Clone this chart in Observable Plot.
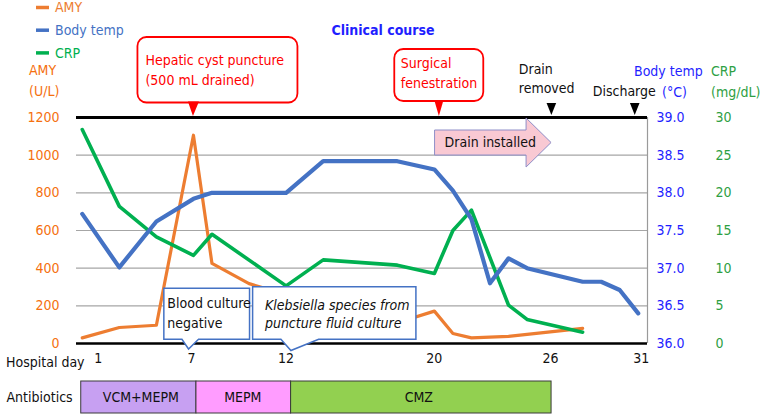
<!DOCTYPE html>
<html><head><meta charset="utf-8">
<script src="https://cdn.jsdelivr.net/npm/d3@7"></script>
<script src="https://cdn.jsdelivr.net/npm/@observablehq/plot@0.6"></script>
<style>
body{margin:0;background:#fff;}
#chart{position:relative;width:767px;height:415px;}
#chart svg{display:block;overflow:visible;}
</style></head><body><div id="chart"></div>
<script>
// ---- data ----
const amyDays   = [1, 3, 5, 7, 8, 10, 12, 14, 16, 18, 20, 21, 22, 24, 28];
const amyValues = [30, 85, 97, 1106, 425, 318, 260, 200, 160, 110, 172, 53, 30, 38, 80];
const tempDays   = [1, 3, 5, 7, 8, 12, 14, 18, 20, 21, 22, 23, 24, 25, 28, 29, 30, 31];
const tempValues = [37.72, 37.01, 37.62, 37.92, 38.0, 38.0, 38.42, 38.42, 38.31, 38.03, 37.65, 36.80, 37.13, 37.0, 36.82, 36.82, 36.71, 36.40];
const crpDays   = [1, 3, 5, 7, 8, 12, 14, 18, 20, 21, 22, 24, 25, 28];
const crpValues = [28.4, 18.2, 14.15, 11.7, 14.5, 7.65, 11.1, 10.4, 9.3, 15.0, 17.7, 5.1, 3.2, 1.5];
const dayTicks  = [1, 7, 12, 20, 26, 31];
const amyTicks  = [0, 200, 400, 600, 800, 1000, 1200];
const tempTicks = [36.0, 36.5, 37.0, 37.5, 38.0, 38.5, 39.0];
const crpTicks  = [0, 5, 10, 15, 20, 25, 30];
const abxDrugs  = ["VCM+MEPM", "MEPM", "CMZ"];
const abxStart  = [1, 7, 12];
const abxEnd    = [7, 12, 26];
const seriesNames = ["AMY", "Body temp", "CRP"];
const eventPuncture = {day: 7, lines: ["Hepatic cyst puncture", "(500 mL drained)"]};
const eventSurgery  = {day: 20, lines: ["Surgical", "fenestration"]};
const eventDrainOut = {day: 26, lines: ["Drain", "removed"]};
const eventDischarge = {day: 31, lines: ["Discharge"]};
const drainInstalled = {start: 20, end: 26, label: "Drain installed"};
const noteBlood = {day: 7, lines: ["Blood culture", "negative"]};
const noteKleb  = {day: 12, lines: ["Klebsiella species from", "puncture fluid culture"]};

// ---- styles / layout ----
const FONT = '"DejaVu Sans Condensed","DejaVu Sans",sans-serif';
const C_AMY = "#ed7d31", C_TEMP = "#4472c4", C_CRP = "#00b050";
const T_AMY = "#f5700f", T_TEMP = "#1f1fff", T_CRP = "#2ea043";
const seriesColor = {"AMY": C_AMY, "Body temp": C_TEMP, "CRP": C_CRP};
const abxColor = {"VCM+MEPM": "#c7a0f2", "MEPM": "#ff9cff", "CMZ": "#92d050"};
const dayTickNudge = {1: 16, 7: -2, 12: 0, 20: 0, 26: 5, 31: 3}; // label placement in px
const abxNudge = [-1, 3, 5, 6]; // bar edge placement in px (start of each, then last end)

const tempToAmy = t => (t - 36) * 400;
const crpToAmy = c => c * 40;

const amy = amyDays.map((d, i) => ({day: d, v: amyValues[i]}));
const temp = tempDays.map((d, i) => ({day: d, v: tempToAmy(tempValues[i])}));
const crp = crpDays.map((d, i) => ({day: d, v: crpToAmy(crpValues[i])}));
const abx = abxDrugs.map((k, i) => ({drug: k, start: abxStart[i], end: abxEnd[i], nl: abxNudge[i], nr: abxNudge[i + 1]}));

const xDomain = [0.69, 31.5];

function decor(index, scales, values, dims) {
  const x = scales.x;
  const top = dims.marginTop, bottom = dims.height - dims.marginBottom;
  const g = d3.create("svg:g").attr("font-family", FONT).attr("font-size", 14);
  const txt = (px, py, s, fill, o = {}) => g.append("text")
    .attr("x", px).attr("y", py).attr("dy", "0.35em")
    .attr("fill", fill).attr("text-anchor", o.anchor || "start")
    .attr("font-weight", o.weight || null).attr("font-style", o.style || null).text(s);

  // legend
  seriesNames.forEach((n, i) => {
    const yy = 7.5 + i * 22.7;
    g.append("line").attr("x1", 36).attr("x2", 49).attr("y1", yy).attr("y2", yy)
      .attr("stroke", seriesColor[n]).attr("stroke-width", 3.5);
    txt(55, yy, n, seriesColor[n]);
  });
  // title
  txt(383, 30, "Clinical course", T_TEMP, {anchor: "middle", weight: "bold"});
  // axis titles
  txt(29, 70, "AMY", T_AMY); txt(29, 91, "(U/L)", T_AMY);
  txt(634, 71, "Body temp", T_TEMP); txt(662, 92, "(°C)", T_TEMP);
  txt(711, 71, "CRP", T_CRP); txt(711, 92, "(mg/dL)", T_CRP);
  txt(6, bottom + 19, "Hospital day", "#111");

  // Hepatic puncture callout
  {
    const px = x(eventPuncture.day);
    g.append("rect").attr("x", px - 55.5).attr("y", top - 80).attr("width", 160).attr("height", 65.5)
      .attr("rx", 9).attr("fill", "#fff").attr("stroke", "#ff0000").attr("stroke-width", 1.8);
    g.append("path").attr("d", `M${px - 5},${top - 15.5}L${px},${top - 1}L${px + 6},${top - 15.5}Z`).attr("fill", "#ff0000");
    eventPuncture.lines.forEach((s, i) => txt(px - 47.5, top - 57 + i * 20.5, s, "#ff0000"));
  }
  // Surgical fenestration callout
  {
    const px = x(eventSurgery.day) + 5;
    g.append("rect").attr("x", px - 44.6).attr("y", top - 68).attr("width", 89).attr("height", 52)
      .attr("rx", 9).attr("fill", "#fff").attr("stroke", "#ff0000").attr("stroke-width", 1.8);
    g.append("path").attr("d", `M${px - 4.5},${top - 16.5}L${px},${top - 1}L${px + 4.5},${top - 16.5}Z`).attr("fill", "#ff0000");
    eventSurgery.lines.forEach((s, i) => txt(px - 38, top - 53.7 + i * 20, s, "#ff0000"));
  }
  // Drain removed marker
  {
    const px = x(eventDrainOut.day) + 6.3;
    g.append("path").attr("d", `M${px - 4.8},${top - 14}L${px},${top - 2}L${px + 4.8},${top - 14}Z`).attr("fill", "#000");
    eventDrainOut.lines.forEach((s, i) => txt(px - 32.6, top - 47.7 + i * 19, s, "#111"));
  }
  // Discharge marker
  {
    const px = x(eventDischarge.day) - 3;
    g.append("path").attr("d", `M${px - 4.8},${top - 14}L${px},${top - 2}L${px + 4.8},${top - 14}Z`).attr("fill", "#000");
    txt(px - 42, top - 26.3, eventDischarge.lines[0], "#111");
  }
  // Drain installed arrow
  {
    const x0 = x(drainInstalled.start) + 0.7, tip = x(drainInstalled.end) + 6, hb = tip - 25;
    g.append("path").attr("d",
      `M${x0},${top + 13}L${hb},${top + 13}L${hb},${top + 1}L${tip},${top + 25.5}L${hb},${top + 50}L${hb},${top + 38}L${x0},${top + 38}Z`)
      .attr("fill", "#f9c9d3").attr("stroke", "#8e8ec8").attr("stroke-width", 1);
    txt(x0 + 10, top + 24.7, drainInstalled.label, "#111");
  }
  // Blood culture callout
  {
    const px = x(noteBlood.day);
    const l = px - 29.1, r = px + 56.6, t = bottom - 54.7, b = bottom - 3.7;
    g.append("path").attr("d",
      `M${l},${t}H${r}V${b}H${px + 5.6}L${px - 4.4},${bottom + 6}L${px - 11},${b}H${l}Z`)
      .attr("fill", "#fff").attr("stroke", "#4472c4").attr("stroke-width", 1.5);
    noteBlood.lines.forEach((s, i) => txt(l + 3.5, t + 15 + i * 19.4, s, "#111"));
  }
  // Klebsiella callout
  {
    const px = x(noteKleb.day);
    const l = px - 33, r = px + 130.3, t = bottom - 56.3, b = bottom - 3.7;
    g.append("path").attr("d",
      `M${l},${t}H${r}V${b}H${px + 33}L${px + 5.3},${bottom + 7.5}L${px - 4.7},${b}H${l}Z`)
      .attr("fill", "#fff").attr("stroke", "#4472c4").attr("stroke-width", 1.5);
    noteKleb.lines.forEach((s, i) => txt(l + 12.3, t + 18.3 + i * 18.3, s, "#111", {style: "italic"}));
  }
  return g.node();
}

const style = {fontFamily: FONT, fontSize: "14px", background: "transparent", overflow: "visible"};

const main = Plot.plot({
  width: 767, height: 371,
  marginLeft: 76, marginRight: 120, marginTop: 117, marginBottom: 28,
  x: {domain: xDomain, axis: null},
  y: {domain: [0, 1200], axis: null},
  style,
  marks: [
    Plot.ruleY(amyTicks.filter(v => v > 0 && v < 1200), {stroke: "#a6a6a6", strokeWidth: 1.2}),
    Plot.ruleX([xDomain[1]], {stroke: "#9a9a9a", strokeWidth: 1.2}),
    Plot.line(amy, {x: "day", y: "v", stroke: C_AMY, strokeWidth: 3.2, strokeLinejoin: "round"}),
    Plot.line(crp, {x: "day", y: "v", stroke: C_CRP, strokeWidth: 3.6, strokeLinejoin: "round"}),
    Plot.line(temp, {x: "day", y: "v", stroke: C_TEMP, strokeWidth: 4.2, strokeLinejoin: "round"}),
    Plot.ruleY([1200], {stroke: "#000", strokeWidth: 3}),
    Plot.ruleY([0], {stroke: "#000", strokeWidth: 2.5}),
    Plot.text(amyTicks, {y: d => d, text: d => String(d), frameAnchor: "left", dx: -17, textAnchor: "end", fill: T_AMY}),
    Plot.text(tempTicks, {y: tempToAmy, text: d => d.toFixed(1), frameAnchor: "right", dx: 9, textAnchor: "start", fill: T_TEMP}),
    Plot.text(crpTicks, {y: crpToAmy, text: d => String(d), frameAnchor: "right", dx: 68, textAnchor: "start", fill: T_CRP}),
    ...dayTicks.map(d => Plot.text([d], {x: v => v, text: v => String(v), frameAnchor: "bottom", dy: 19, dx: dayTickNudge[d], fill: "#111"})),
    decor
  ]
});

const abxPlot = Plot.plot({
  width: 767, height: 44,
  marginLeft: 76, marginRight: 120, marginTop: 10, marginBottom: 2,
  x: {domain: xDomain, axis: null},
  y: {axis: null},
  style,
  marks: [
    ...abx.map(d => Plot.rect([d], {x1: "start", x2: "end", insetLeft: d.nl, insetRight: -d.nr, fill: abxColor[d.drug], stroke: "#3a3a3a", strokeWidth: 1})),
    Plot.text(abx, {x: d => (d.start + d.end) / 2, dx: 3, text: "drug", fill: "#111"}),
    Plot.text(["Antibiotics"], {frameAnchor: "left", dx: -70, textAnchor: "start", fill: "#111"})
  ]
});

document.getElementById("chart").append(main, abxPlot);
</script></body></html>
